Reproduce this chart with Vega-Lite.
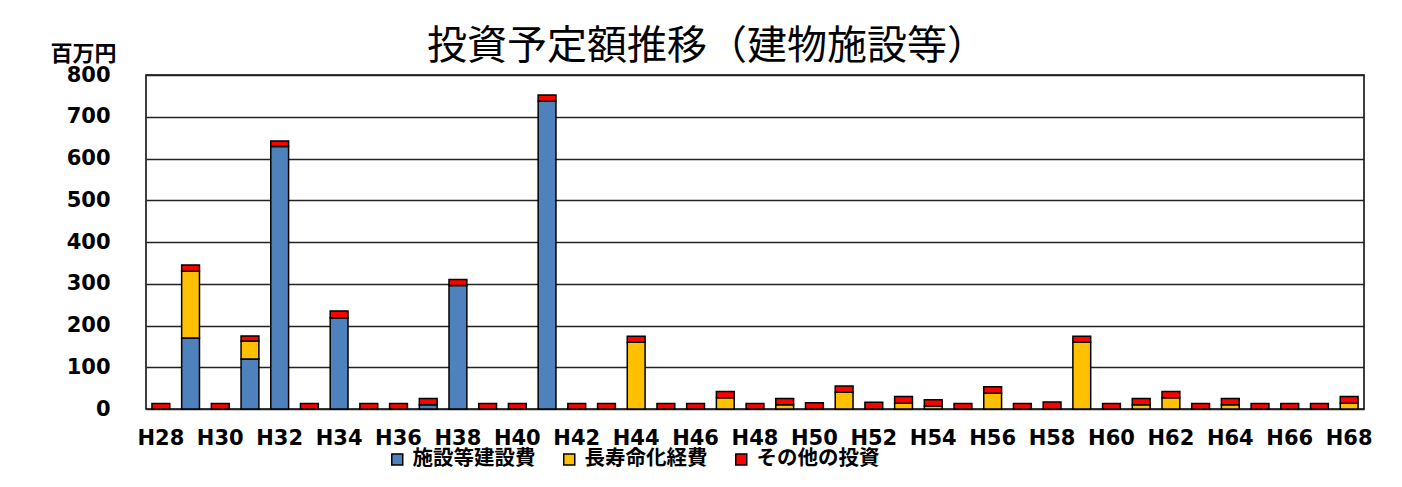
{
  "$schema": "https://vega.github.io/schema/vega-lite/v6.json",
  "autosize": {"type": "none"},
  "width": 1218,
  "height": 334,
  "padding": {"left": 146, "top": 75, "right": 38, "bottom": 78},
  "background": "white",
  "title": {
    "text": "投資予定額推移（建物施設等）",
    "font": "Noto Sans CJK JP",
    "fontSize": 40,
    "fontWeight": "normal",
    "color": "black",
    "anchor": "middle",
    "frame": "group",
    "dx": -48,
    "baseline": "alphabetic",
    "offset": -57
  },
  "data": {
    "values": [
      {"year": "H28", "c": "その他の投資", "k": 3, "v": 13},
      {"year": "H29", "c": "施設等建設費", "k": 1, "v": 170},
      {"year": "H29", "c": "長寿命化経費", "k": 2, "v": 160},
      {"year": "H29", "c": "その他の投資", "k": 3, "v": 15},
      {"year": "H30", "c": "その他の投資", "k": 3, "v": 13},
      {"year": "H31", "c": "施設等建設費", "k": 1, "v": 120},
      {"year": "H31", "c": "長寿命化経費", "k": 2, "v": 43},
      {"year": "H31", "c": "その他の投資", "k": 3, "v": 12},
      {"year": "H32", "c": "施設等建設費", "k": 1, "v": 629},
      {"year": "H32", "c": "その他の投資", "k": 3, "v": 13},
      {"year": "H33", "c": "その他の投資", "k": 3, "v": 13},
      {"year": "H34", "c": "施設等建設費", "k": 1, "v": 218},
      {"year": "H34", "c": "その他の投資", "k": 3, "v": 17},
      {"year": "H35", "c": "その他の投資", "k": 3, "v": 13},
      {"year": "H36", "c": "その他の投資", "k": 3, "v": 13},
      {"year": "H37", "c": "施設等建設費", "k": 1, "v": 10},
      {"year": "H37", "c": "その他の投資", "k": 3, "v": 15},
      {"year": "H38", "c": "施設等建設費", "k": 1, "v": 296},
      {"year": "H38", "c": "その他の投資", "k": 3, "v": 14},
      {"year": "H39", "c": "その他の投資", "k": 3, "v": 13},
      {"year": "H40", "c": "その他の投資", "k": 3, "v": 13},
      {"year": "H41", "c": "施設等建設費", "k": 1, "v": 737},
      {"year": "H41", "c": "その他の投資", "k": 3, "v": 15},
      {"year": "H42", "c": "その他の投資", "k": 3, "v": 13},
      {"year": "H43", "c": "その他の投資", "k": 3, "v": 13},
      {"year": "H44", "c": "長寿命化経費", "k": 2, "v": 160},
      {"year": "H44", "c": "その他の投資", "k": 3, "v": 14},
      {"year": "H45", "c": "その他の投資", "k": 3, "v": 13},
      {"year": "H46", "c": "その他の投資", "k": 3, "v": 13},
      {"year": "H47", "c": "長寿命化経費", "k": 2, "v": 27},
      {"year": "H47", "c": "その他の投資", "k": 3, "v": 15},
      {"year": "H48", "c": "その他の投資", "k": 3, "v": 13},
      {"year": "H49", "c": "長寿命化経費", "k": 2, "v": 10},
      {"year": "H49", "c": "その他の投資", "k": 3, "v": 15},
      {"year": "H50", "c": "その他の投資", "k": 3, "v": 15},
      {"year": "H51", "c": "長寿命化経費", "k": 2, "v": 40},
      {"year": "H51", "c": "その他の投資", "k": 3, "v": 15},
      {"year": "H52", "c": "その他の投資", "k": 3, "v": 16},
      {"year": "H53", "c": "長寿命化経費", "k": 2, "v": 14},
      {"year": "H53", "c": "その他の投資", "k": 3, "v": 16},
      {"year": "H54", "c": "長寿命化経費", "k": 2, "v": 7},
      {"year": "H54", "c": "その他の投資", "k": 3, "v": 15},
      {"year": "H55", "c": "その他の投資", "k": 3, "v": 13},
      {"year": "H56", "c": "長寿命化経費", "k": 2, "v": 38},
      {"year": "H56", "c": "その他の投資", "k": 3, "v": 15},
      {"year": "H57", "c": "その他の投資", "k": 3, "v": 13},
      {"year": "H58", "c": "その他の投資", "k": 3, "v": 17},
      {"year": "H59", "c": "長寿命化経費", "k": 2, "v": 160},
      {"year": "H59", "c": "その他の投資", "k": 3, "v": 14},
      {"year": "H60", "c": "その他の投資", "k": 3, "v": 13},
      {"year": "H61", "c": "長寿命化経費", "k": 2, "v": 10},
      {"year": "H61", "c": "その他の投資", "k": 3, "v": 15},
      {"year": "H62", "c": "長寿命化経費", "k": 2, "v": 27},
      {"year": "H62", "c": "その他の投資", "k": 3, "v": 15},
      {"year": "H63", "c": "その他の投資", "k": 3, "v": 13},
      {"year": "H64", "c": "長寿命化経費", "k": 2, "v": 10},
      {"year": "H64", "c": "その他の投資", "k": 3, "v": 15},
      {"year": "H65", "c": "その他の投資", "k": 3, "v": 13},
      {"year": "H66", "c": "その他の投資", "k": 3, "v": 13},
      {"year": "H67", "c": "その他の投資", "k": 3, "v": 13},
      {"year": "H68", "c": "長寿命化経費", "k": 2, "v": 14},
      {"year": "H68", "c": "その他の投資", "k": 3, "v": 16}
    ]
  },
  "mark": {"type": "bar", "stroke": "black", "strokeWidth": 1.5},
  "encoding": {
    "x": {
      "field": "year",
      "type": "nominal",
      "sort": null,
      "scale": {"paddingInner": 0.4, "paddingOuter": 0.2},
      "axis": {
        "title": null,
        "labelAngle": 0,
        "values": ["H28","H30","H32","H34","H36","H38","H40","H42","H44","H46","H48","H50","H52","H54","H56","H58","H60","H62","H64","H66","H68"],
        "ticks": false,
        "domain": false,
        "labelPadding": 18,
        "labelFont": "DejaVu Sans",
        "labelFontSize": 21,
        "labelFontWeight": "bold",
        "labelColor": "black"
      }
    },
    "y": {
      "field": "v",
      "type": "quantitative",
      "stack": "zero",
      "scale": {"domain": [0, 800], "nice": false},
      "axis": {
        "values": [0,100,200,300,400,500,600,700,800],
        "ticks": false,
        "domain": false,
        "grid": true,
        "gridColor": "#222",
        "gridWidth": 1.5,
        "gridOpacity": 1,
        "labelPadding": 36,
        "labelFont": "DejaVu Sans",
        "labelFontSize": 21,
        "labelFontWeight": "bold",
        "labelColor": "black",
        "title": "百万円",
        "titleFont": "Noto Sans CJK JP",
        "titleFontSize": 22,
        "titleFontWeight": "bold",
        "titleColor": "black",
        "titleAngle": 0,
        "titleX": -63,
        "titleY": -22,
        "titleAlign": "center",
        "titleBaseline": "middle"
      }
    },
    "color": {
      "field": "c",
      "type": "nominal",
      "scale": {
        "domain": ["施設等建設費", "長寿命化経費", "その他の投資"],
        "range": ["#4F81BD", "#FFC000", "#FF0000"]
      },
      "legend": {
        "title": null,
        "orient": "none",
        "direction": "horizontal",
        "legendX": 241,
        "legendY": 374,
        "symbolType": "square",
        "symbolSize": 121,
        "symbolStrokeColor": "black",
        "symbolStrokeWidth": 1.5,
        "symbolOpacity": 1,
        "labelFont": "Noto Sans CJK JP",
        "labelFontSize": 20.5,
        "labelFontWeight": "bold",
        "labelColor": "black",
        "labelOffset": 5,
        "columnPadding": 23
      }
    },
    "order": {"field": "k", "type": "quantitative", "sort": "ascending"}
  },
  "config": {
    "view": {"stroke": "black", "strokeWidth": 1.5}
  }
}
